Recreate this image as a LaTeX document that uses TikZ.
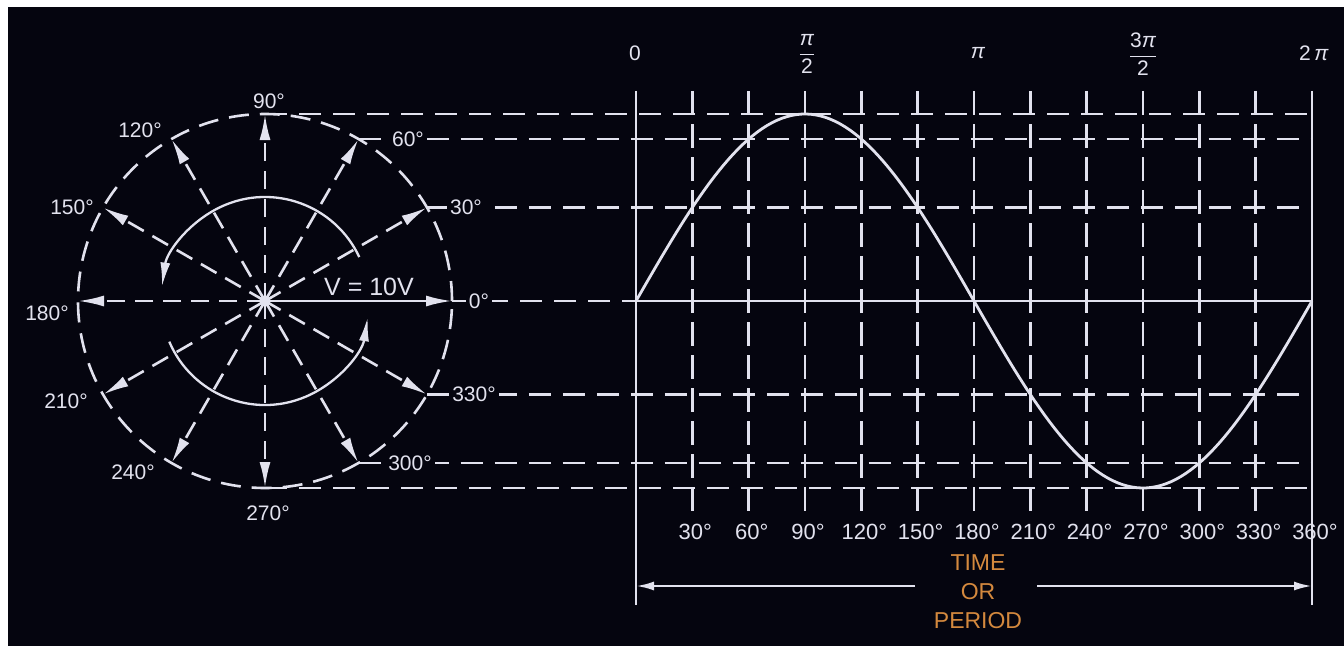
\documentclass[tikz,border=0pt]{standalone}
\usepackage{fontspec}
\setmainfont{Liberation Sans}
\usepackage{amsmath}
\usepackage{xcolor}
\usepackage{tikz}
\usetikzlibrary{arrows.meta,shapes.geometric}

\definecolor{board}{HTML}{05050F}
\definecolor{chalk}{HTML}{E2E2EE}
\definecolor{ochre}{HTML}{D4893E}

\begin{document}
\begin{tikzpicture}[x=1pt, y=1pt,
        rim/.style={draw=chalk, line width=2.6pt, dash pattern=on 20pt off 11pt},
        phasor/.style={draw=chalk, line width=2.6pt, dash pattern=on 18pt off 10pt, -{Latex[length=26pt, width=11pt]}},
        turn/.style={draw=chalk, line width=2.3pt, -{Latex[length=24pt, width=10pt]}},
        project/.style={draw=chalk, line width=2.4pt, dash pattern=on 22pt off 12pt},
        gridline/.style={draw=chalk, line width=2.4pt, dash pattern=on 24pt off 9pt},
        frame/.style={draw=chalk, line width=2.4pt},
        wave/.style={draw=chalk, line width=2.8pt},
        span/.style={draw=chalk, line width=2.4pt, -{Latex[length=18pt, width=9pt]}},
        angle/.style={text=chalk, fill=board, inner sep=3pt, font=\fontsize{21}{23}\selectfont},
        tick/.style={text=chalk, inner sep=1pt, font=\fontsize{22}{24}\selectfont},
        phase/.style={text=chalk, inner sep=1pt, font=\fontsize{21}{24}\selectfont}
    ]
        \useasboundingbox (0,-345) rectangle (1344,301);
        \fill[white] (0,-345) rectangle (1344,301);
        \fill[board] (8,-345) rectangle (1344,294);

        % rotating phasor
        \node[star, star points=12, star point ratio=2.4, fill=chalk, inner sep=0pt, minimum size=22pt] (hub) at (265,0) {};
        \coordinate (p0) at ([shift={(0:187)}]hub.center);
        \coordinate (p30) at ([shift={(30:187)}]hub.center);
        \coordinate (p60) at ([shift={(60:187)}]hub.center);
        \coordinate (p90) at ([shift={(90:187)}]hub.center);
        \coordinate (p120) at ([shift={(120:187)}]hub.center);
        \coordinate (p150) at ([shift={(150:187)}]hub.center);
        \coordinate (p180) at ([shift={(180:187)}]hub.center);
        \coordinate (p210) at ([shift={(210:187)}]hub.center);
        \coordinate (p240) at ([shift={(240:187)}]hub.center);
        \coordinate (p270) at ([shift={(270:187)}]hub.center);
        \coordinate (p300) at ([shift={(300:187)}]hub.center);
        \coordinate (p330) at ([shift={(330:187)}]hub.center);

        % time axis
        \coordinate (t0) at (636,0);
        \coordinate (t360) at (1312,0);
        \foreach \k in {1,...,11}
            \draw[gridline] ({636+\k*56.333},210) -- ({636+\k*56.333},-211);
        \draw[frame] (636,210) -- (636,-304);
        \draw[frame] (1312,210) -- (1312,-304);

        % projection lines
        \draw[project] (p90) -- (p90 -| t360);
        \draw[project] (p60) -- (p60 -| t360);
        \draw[project] (p30) -- (p30 -| t360);
        \draw[project] (p0) -- (t0);
        \draw[frame] (t0) -- (t360);
        \draw[project] (p330) -- (p330 -| t360);
        \draw[project] (p300) -- (p300 -| t360);
        \draw[project] (p270) -- (p270 -| t360);

        \draw[wave] plot[domain=0:360, samples=140] ({636+\x*1.87778},{187*sin(\x)});

        \draw[rim] (hub.center) circle[radius=187];
        \draw[draw=chalk, line width=2.6pt, -{Latex[length=26pt, width=11pt]}] (hub.center) -- (p0);
        \draw[phasor] (hub.center) -- (p30);
        \draw[phasor] (hub.center) -- (p60);
        \draw[phasor] (hub.center) -- (p90);
        \draw[phasor] (hub.center) -- (p120);
        \draw[phasor] (hub.center) -- (p150);
        \draw[phasor] (hub.center) -- (p180);
        \draw[phasor] (hub.center) -- (p210);
        \draw[phasor] (hub.center) -- (p240);
        \draw[phasor] (hub.center) -- (p270);
        \draw[phasor] (hub.center) -- (p300);
        \draw[phasor] (hub.center) -- (p330);
        \draw[turn] ([shift={(25:104)}]hub.center) arc[start angle=25, end angle=172, radius=104];
        \draw[turn] ([shift={(203:104)}]hub.center) arc[start angle=203, end angle=351, radius=104];

        \node[angle, fill=none] (a90) at (269,200) {90°};
        \node[angle, fill=none] (a120) at (140,171) {120°};
        \node[angle] (a60) at (408,162) {60°};
        \node[angle, fill=none] (a150) at (72,94) {150°};
        \node[angle] (a30) at (466,93.5) {30°};
        \node[angle, fill=none] (a180) at (47,-12) {180°};
        \node[angle] (a0) at (479,0) {0°};
        \node[angle, fill=none, font=\fontsize{25}{26}\selectfont] (volt) at (369,14) {V = 10V};
        \node[angle, fill=none] (a210) at (66,-100) {210°};
        \node[angle] (a330) at (474,-93.5) {330°};
        \node[angle, fill=none] (a240) at (133,-171) {240°};
        \node[angle] (a300) at (410,-162) {300°};
        \node[angle, fill=none] (a270) at (268,-212) {270°};

        % radian marks
        \node[phase] (r0) at (635,248) {0};
        \node[phase] (r1) at (807,247) {$\dfrac{\textit{π}}{\text{2}}$};
        \node[phase] (r2) at (978,248) {\textit{π}};
        \node[phase] (r3) at (1143,247) {$\dfrac{\text{3}\textit{π}}{\text{2}}$};
        \node[phase] (r4) at (1314,248) {2\,\textit{π}};

        \foreach \k [evaluate=\k as \deg using int(30*\k)] in {1,...,12}
            \node[tick] (d\k) at ({639+\k*56.333},-231) {\deg°};

        \node[text=ochre, align=center, font=\fontsize{23}{29}\selectfont] (period) at (978,-291) {TIME\\OR\\PERIOD};
        \coordinate (sl) at (915,-285);
        \coordinate (sr) at (1037,-285);
        \draw[span] (sl) -- (sl -| t0);
        \draw[span] (sr) -- (sr -| t360);
    \end{tikzpicture}
\end{document}
